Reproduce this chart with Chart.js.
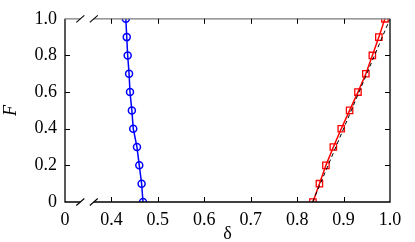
<!DOCTYPE html>
<html>
<head>
<meta charset="utf-8">
<script src="https://cdn.jsdelivr.net/npm/chart.js@4/dist/chart.umd.min.js"></script>
<style>
  html, body { margin: 0; padding: 0; background: #fff; }
  #wrap { width: 415px; height: 242px; }
</style>
</head>
<body>
<div id="wrap"><canvas id="chart" width="415" height="242"></canvas></div>
<script>
// F levels shared by both curves
const fValues = [0, 0.1, 0.2, 0.3, 0.4, 0.5, 0.6, 0.7, 0.8, 0.9, 1.0];
const deltaBlue = [0.468, 0.465, 0.460, 0.455, 0.447, 0.444, 0.440, 0.438, 0.435, 0.433, 0.431];
const deltaRed = [0.834, 0.848, 0.862, 0.878, 0.895, 0.913, 0.931, 0.948, 0.962, 0.976, 0.989];
// dashed reference line end points
const dashDelta = [0.8333, 1.0];
const dashF = [0, 1.0];
// axis range; the left end (0.3) is shown as "0" after the break
const xMin = 0.3, xMax = 1.0;
const xTicks = [0.3, 0.4, 0.5, 0.6, 0.7, 0.8, 0.9, 1.0];
const yTicks = [0, 0.2, 0.4, 0.6, 0.8, 1.0];
const breakAt = [0.333, 0.362];

const pts = (xs, ys) => xs.map((x, i) => ({ x: x, y: ys[i] }));
const serif = "'Liberation Serif', 'DejaVu Serif', serif";

// frame, inward ticks and axis break marks
const framePlugin = {
    id: 'frame',
    afterDraw(chart) {
        const { ctx, chartArea: a, scales: { x, y } } = chart;
        const b1 = x.getPixelForValue(breakAt[0]);
        const b2 = x.getPixelForValue(breakAt[1]);
        ctx.save();
        ctx.lineWidth = 1.3;
        ctx.lineCap = 'butt';

        // bottom and left/right axes
        ctx.strokeStyle = '#000';
        ctx.beginPath();
        ctx.moveTo(a.left, a.top); ctx.lineTo(a.left, a.bottom); ctx.lineTo(b1, a.bottom);
        ctx.moveTo(b2, a.bottom); ctx.lineTo(a.right, a.bottom); ctx.lineTo(a.right, a.top);
        ctx.stroke();
        // top axis (gray)
        ctx.strokeStyle = '#7a7a7a';
        ctx.beginPath();
        ctx.moveTo(a.left, a.top); ctx.lineTo(b1, a.top);
        ctx.moveTo(b2, a.top); ctx.lineTo(a.right, a.top);
        ctx.stroke();

        // break slashes
        ctx.strokeStyle = '#000';
        ctx.lineWidth = 1.1;
        ctx.beginPath();
        [a.top, a.bottom].forEach(yy => {
            [b1, b2].forEach(bx => {
                ctx.moveTo(bx - 4, yy + 3.5);
                ctx.lineTo(bx + 4, yy - 3.5);
            });
        });
        ctx.stroke();

        // inward ticks
        ctx.lineWidth = 1;
        ctx.beginPath();
        xTicks.forEach(v => {
            if (v === xMin || v === xMax) return;
            const px = Math.round(x.getPixelForValue(v)) + 0.5;
            ctx.moveTo(px, a.bottom); ctx.lineTo(px, a.bottom - 5);
            ctx.moveTo(px, a.top); ctx.lineTo(px, a.top + 5);
        });
        yTicks.forEach(v => {
            if (v === 0 || v === 1) return;
            const py = Math.round(y.getPixelForValue(v)) + 0.5;
            ctx.moveTo(a.left, py); ctx.lineTo(a.left + 5, py);
            ctx.moveTo(a.right, py); ctx.lineTo(a.right - 5, py);
        });
        ctx.stroke();
        ctx.restore();
    }
};

new Chart(document.getElementById('chart'), {
    type: 'scatter',
    data: {
        datasets: [
            {
                data: pts(dashDelta, dashF),
                showLine: true,
                borderColor: '#000',
                borderWidth: 1,
                borderDash: [4, 3],
                pointRadius: 0
            },
            {
                data: pts(deltaBlue, fValues),
                showLine: true,
                borderColor: '#0000ff',
                borderWidth: 1.5,
                pointStyle: 'circle',
                pointRadius: 3.5,
                pointBorderWidth: 1.5,
                pointBorderColor: '#0000ff',
                pointBackgroundColor: 'rgba(0,0,0,0)'
            },
            {
                data: pts(deltaRed, fValues),
                showLine: true,
                borderColor: '#ff0000',
                borderWidth: 1.5,
                pointStyle: 'rect',
                pointRadius: 4.5,
                pointBorderWidth: 1.3,
                pointBorderColor: '#ff0000',
                pointBackgroundColor: 'rgba(0,0,0,0)'
            }
        ]
    },
    options: {
        responsive: false,
        animation: false,
        layout: { padding: { top: 15, right: 25, left: 0, bottom: 0 } },
        plugins: { legend: { display: false }, tooltip: { enabled: false } },
        scales: {
            x: {
                type: 'linear',
                min: xMin,
                max: xMax,
                afterBuildTicks: s => { s.ticks = xTicks.map(v => ({ value: v })); },
                afterFit: s => { s.height = 40; },
                grid: { display: false, drawTicks: false },
                border: { display: false },
                ticks: {
                    padding: 7,
                    color: '#000',
                    font: { family: serif, size: 18 },
                    callback: v => (Math.abs(v - xMin) < 1e-9 ? '0' : v.toFixed(1))
                },
                title: {
                    display: true,
                    text: 'δ',
                    color: '#000',
                    padding: { top: 0, bottom: -3 },
                    font: { family: serif, size: 18 }
                }
            },
            y: {
                type: 'linear',
                min: 0,
                max: 1,
                afterBuildTicks: s => { s.ticks = yTicks.map(v => ({ value: v })); },
                afterFit: s => { s.width = 65; },
                grid: { display: false, drawTicks: false },
                border: { display: false },
                ticks: {
                    padding: 8,
                    color: '#000',
                    font: { family: serif, size: 18 },
                    callback: v => (v === 0 ? '0' : v.toFixed(1))
                },
                title: {
                    display: true,
                    text: 'F',
                    color: '#000',
                    padding: { top: 0, bottom: 0 },
                    font: { family: serif, size: 18, style: 'italic' }
                }
            }
        }
    },
    plugins: [framePlugin]
});
</script>
</body>
</html>
